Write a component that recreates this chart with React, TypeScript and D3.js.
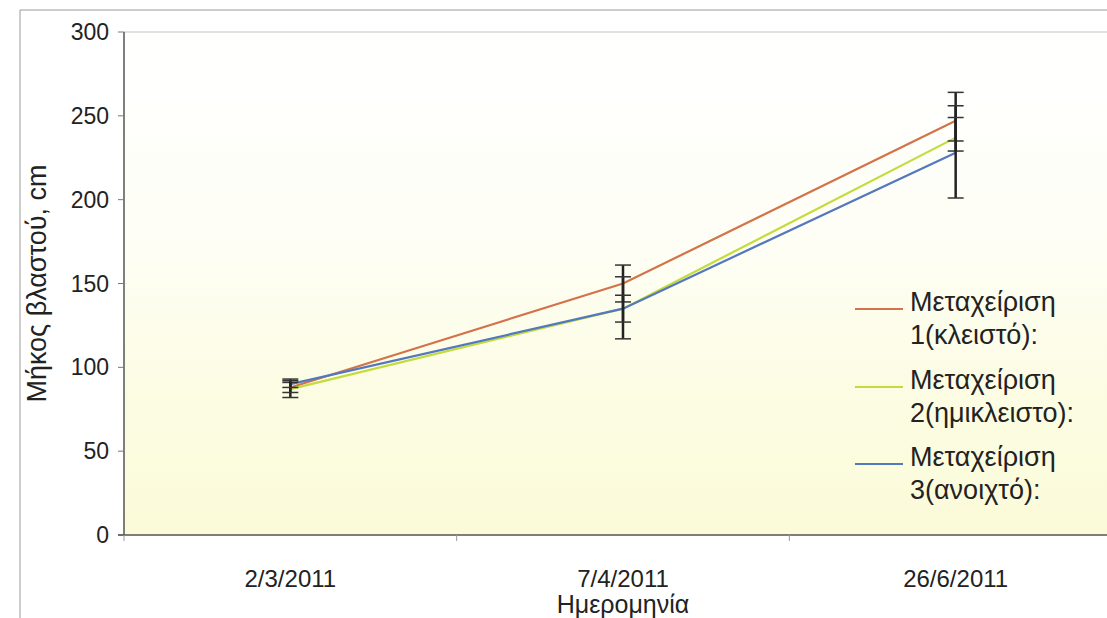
import React from "react";
import * as d3 from "d3";

const categories = ["2/3/2011", "7/4/2011", "26/6/2011"];
const seriesNames = [
  ["Μεταχείριση", "1(κλειστό):"],
  ["Μεταχείριση", "2(ημικλειστο):"],
  ["Μεταχείριση", "3(ανοιχτό):"],
];
const series1 = [88, 150, 247];
const series2 = [87, 135, 237];
const series3 = [90, 135, 228];
const series1Hi = [93, 161, 264];
const series1Lo = [82, 139, 229];
const series2Hi = [91, 154, 256];
const series2Lo = [85, 117, 235];
const series3Hi = [92, 143, 249];
const series3Lo = [88, 127, 201];
const yTicks = [0, 50, 100, 150, 200, 250, 300];
const colors = ["#d2734a", "#c3dc3c", "#5478be"];

const W = 1107;
const H = 618;
const left = 124;
const right = 1122;
const top = 32;
const bottom = 535;
const FONT = "'Liberation Sans', Arial, sans-serif";

export default function App() {
  const x = d3.scaleBand<string>().domain(categories).range([left, right]).padding(0);
  const y = d3.scaleLinear().domain([0, 300]).range([bottom, top]);
  const cx = (c: string) => (x(c) as number) + x.bandwidth() / 2;
  const values = [series1, series2, series3];
  const his = [series1Hi, series2Hi, series3Hi];
  const los = [series1Lo, series2Lo, series3Lo];
  const line = d3
    .line<number>()
    .x((_, i) => cx(categories[i]))
    .y((d) => y(d));

  const legendX = 855;
  const legendRows = [302, 380, 457];
  const lineGap = 33;

  return (
    <svg
      width={W}
      height={H}
      style={{ position: "absolute", left: 0, top: 0, background: "#fff" }}
      fontFamily={FONT}
    >
      <defs>
        <linearGradient id="bg" x1="0" y1="0" x2="0" y2="1">
          <stop offset="0" stopColor="#ffffff" />
          <stop offset="0.4" stopColor="#fefef6" />
          <stop offset="0.75" stopColor="#fcfce2" />
          <stop offset="1" stopColor="#fbfbd9" />
        </linearGradient>
      </defs>
      {/* outer border */}
      <line x1={20} y1={10} x2={W} y2={10} stroke="#9a9a9a" strokeWidth={1} />
      <line x1={20} y1={10} x2={20} y2={H} stroke="#9a9a9a" strokeWidth={1} />
      {/* plot background */}
      <rect x={left} y={top} width={W - left} height={bottom - top} fill="url(#bg)" />
      <line x1={left} y1={top} x2={W} y2={top} stroke="#c4c4c4" strokeWidth={1.2} />
      {/* y axis */}
      <line x1={left} y1={top} x2={left} y2={bottom} stroke="#555" strokeWidth={1.5} />
      {yTicks.map((t) => (
        <g key={t}>
          <line x1={left - 6} x2={left} y1={y(t)} y2={y(t)} stroke="#777" strokeWidth={1} />
          <text
            x={left - 15}
            y={y(t)}
            textAnchor="end"
            dominantBaseline="central"
            fontSize={23}
            fill="#222"
          >
            {t}
          </text>
        </g>
      ))}
      {/* x axis */}
      <line x1={left - 6} y1={bottom} x2={W} y2={bottom} stroke="#555" strokeWidth={1.5} />
      {categories.map((c) => (
        <g key={c}>
          <line
            x1={x(c) as number}
            x2={x(c) as number}
            y1={bottom}
            y2={bottom + 6}
            stroke="#999"
            strokeWidth={1}
          />
          <text x={cx(c)} y={587} textAnchor="middle" fontSize={24} fill="#222">
            {c}
          </text>
        </g>
      ))}
      {/* axis titles */}
      <text
        transform={`translate(46,${(top + bottom) / 2}) rotate(-90)`}
        textAnchor="middle"
        fontSize={27}
        fill="#222"
      >
        Μήκος βλαστού, cm
      </text>
      <text x={cx(categories[1])} y={613} textAnchor="middle" fontSize={25} fill="#222">
        Ημερομηνία
      </text>
      {/* series lines */}
      {values.map((v, s) => (
        <path key={s} d={line(v) as string} fill="none" stroke={colors[s]} strokeWidth={2.2} />
      ))}
      {/* error bars */}
      {values.map((v, s) =>
        v.map((_, i) => {
          const px = cx(categories[i]);
          return (
            <g key={`${s}-${i}`}>
              <line x1={px} x2={px} y1={y(his[s][i])} y2={y(los[s][i])} stroke="#222" strokeWidth={2.5} />
              <line x1={px - 8} x2={px + 8} y1={y(his[s][i])} y2={y(his[s][i])} stroke="#333" strokeWidth={1.5} />
              <line x1={px - 8} x2={px + 8} y1={y(los[s][i])} y2={y(los[s][i])} stroke="#333" strokeWidth={1.5} />
            </g>
          );
        })
      )}
      {/* legend */}
      {seriesNames.map((n, s) => (
        <g key={s}>
          <line
            x1={legendX}
            x2={legendX + 48}
            y1={legendRows[s] + 7}
            y2={legendRows[s] + 7}
            stroke={colors[s]}
            strokeWidth={2}
          />
          <text x={legendX + 55} y={legendRows[s]} dominantBaseline="central" fontSize={27} fill="#222">
            {n[0]}
          </text>
          <text x={legendX + 55} y={legendRows[s] + lineGap} dominantBaseline="central" fontSize={27} fill="#222">
            {n[1]}
          </text>
        </g>
      ))}
    </svg>
  );
}
